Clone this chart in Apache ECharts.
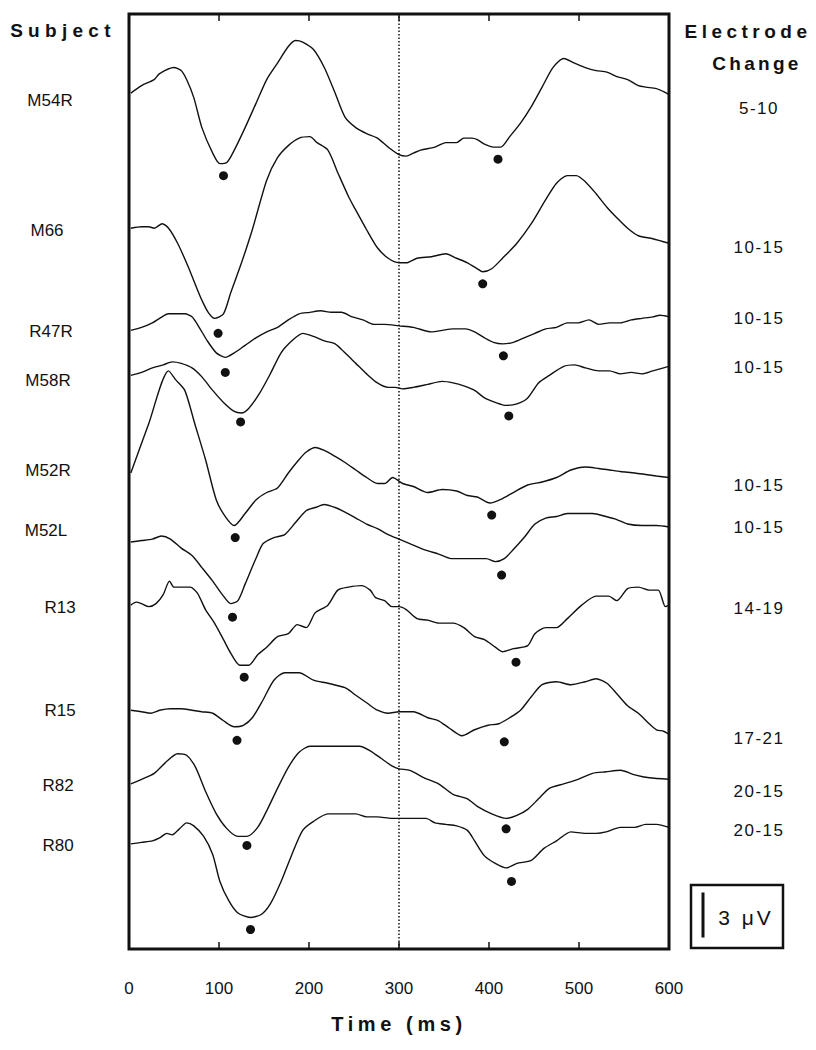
<!DOCTYPE html>
<html>
<head>
<meta charset="utf-8">
<script src="https://cdn.jsdelivr.net/npm/echarts@6/dist/echarts.min.js"></script>
<style>
html,body{margin:0;padding:0;background:#ffffff;}
#chart{width:816px;height:1050px;}
</style>
</head>
<body>
<div id="chart"></div>
<script>
// ---------------- DATA ----------------
const subjects = ['M54R', 'M66', 'R47R', 'M58R', 'M52R', 'M52L', 'R13', 'R15', 'R82', 'R80'];
const electrodeChange = ['5-10', '10-15', '10-15', '10-15', '10-15', '10-15', '14-19', '17-21', '20-15', '20-15'];
const timeTicks = [0, 100, 200, 300, 400, 500, 600];
const scaleBarUV = 3;
// vertical offset of each trace (μV above the bottom of the plot)
const baselineUV = [57.0, 48.0, 41.2, 38.2, 31.7, 27.1, 22.9, 15.9, 11.0, 7.0];

// waveforms: [time (ms), amplitude (μV, relative to baseline)]
const waveM54R = [[2,0.0],[14,0.5],[28,0.9],[34,1.3],[50,1.7],[58,1.5],[64,0.9],[72,-0.3],[81,-2.3],[93,-4.0],[101,-4.7],[109,-4.6],[117,-3.8],[129,-2.3],[141,-0.7],[153,0.9],[165,2.0],[177,3.1],[185,3.5],[193,3.4],[205,2.9],[217,1.7],[229,0.0],[240,-1.6],[252,-2.3],[264,-2.7],[276,-3.0],[288,-3.6],[300,-4.1],[308,-4.2],[316,-4.0],[324,-3.8],[340,-3.6],[352,-3.3],[364,-3.3],[372,-3.0],[381,-3.0],[387,-3.1],[395,-3.4],[405,-3.6],[413,-3.6],[423,-2.9],[435,-2.0],[447,-0.9],[459,0.4],[471,1.7],[483,2.3],[495,2.0],[507,1.7],[519,1.5],[531,1.4],[542,1.1],[554,0.9],[566,0.5],[574,0.4],[586,0.3],[594,0.1],[600,-0.1]];
const waveM66 = [[2,0.0],[14,0.1],[22,0.1],[28,0.0],[37,0.3],[44,0.0],[54,-1.0],[66,-2.6],[76,-4.1],[81,-4.8],[88,-5.6],[95,-6.0],[105,-5.7],[113,-4.3],[125,-2.3],[137,-0.1],[153,3.2],[165,4.7],[177,5.5],[189,6.0],[201,6.1],[209,5.7],[221,5.2],[232,3.7],[244,2.1],[252,1.2],[264,-0.1],[276,-1.3],[288,-2.0],[300,-2.3],[308,-2.3],[320,-2.0],[336,-1.9],[352,-1.7],[364,-2.0],[376,-2.3],[387,-2.7],[393,-2.9],[403,-2.7],[415,-2.0],[431,-1.0],[447,0.3],[463,1.9],[475,3.0],[487,3.5],[497,3.5],[507,3.1],[519,2.3],[531,1.4],[542,0.7],[554,0.0],[566,-0.5],[582,-0.7],[600,-1.0]];
const waveR47R = [[2,0.0],[14,0.2],[26,0.5],[34,0.8],[44,1.1],[54,1.1],[62,1.1],[70,0.9],[78,0.2],[87,-0.7],[97,-1.5],[107,-1.8],[117,-1.5],[129,-1.0],[141,-0.5],[153,-0.1],[165,0.2],[177,0.7],[189,1.1],[201,1.2],[213,1.3],[225,1.2],[236,1.2],[248,0.9],[260,0.7],[272,0.4],[284,0.4],[300,0.3],[316,0.2],[336,-0.1],[348,0.0],[360,0.1],[374,0.1],[384,-0.1],[395,-0.5],[405,-0.8],[415,-0.9],[427,-0.8],[439,-0.5],[451,-0.2],[463,0.1],[475,0.2],[487,0.5],[499,0.5],[511,0.7],[522,0.4],[534,0.5],[546,0.5],[558,0.7],[570,0.8],[582,0.9],[590,1.0],[600,0.9]];
const waveM58R = [[2,0.0],[14,0.2],[26,0.5],[38,0.7],[48,0.9],[58,0.8],[70,0.5],[81,-0.1],[93,-1.0],[105,-1.8],[117,-2.4],[125,-2.5],[133,-2.2],[145,-1.2],[157,0.1],[169,1.5],[181,2.3],[193,2.8],[205,2.6],[217,2.3],[229,2.1],[240,1.5],[252,0.8],[264,0.1],[276,-0.5],[288,-0.8],[296,-0.8],[304,-0.9],[316,-0.8],[332,-0.6],[348,-0.4],[360,-0.5],[372,-0.7],[384,-1.0],[395,-1.5],[407,-1.8],[419,-2.0],[431,-1.9],[443,-1.5],[455,-0.5],[467,0.0],[483,0.6],[495,0.7],[507,0.5],[522,0.3],[534,0.3],[546,0.1],[558,0.2],[570,0.1],[582,0.3],[594,0.5],[600,0.6]];
const waveM52R = [[2,0.0],[22,3.3],[44,6.8],[52,6.2],[62,5.5],[73,3.3],[85,0.9],[97,-1.8],[107,-2.9],[117,-3.5],[129,-2.7],[141,-1.8],[153,-1.3],[165,-1.0],[177,0.0],[189,0.9],[197,1.4],[207,1.7],[217,1.5],[229,1.1],[240,0.7],[252,0.2],[264,-0.3],[276,-0.7],[284,-0.7],[293,-0.3],[304,-0.7],[316,-0.9],[332,-1.3],[348,-1.1],[364,-1.2],[376,-1.5],[387,-1.6],[401,-2.0],[415,-1.7],[427,-1.3],[443,-0.8],[459,-0.6],[475,-0.3],[491,0.2],[507,0.4],[522,0.3],[534,0.2],[546,0.1],[562,0.0],[574,-0.1],[586,-0.2],[600,-0.3]];
const waveM52L = [[2,0.0],[14,0.1],[26,0.2],[36,0.4],[46,0.2],[58,-0.4],[70,-0.9],[81,-1.7],[93,-2.6],[105,-3.6],[113,-4.1],[121,-3.9],[129,-2.8],[141,-1.1],[149,-0.1],[161,0.3],[173,0.5],[185,1.3],[197,2.1],[207,2.3],[217,2.5],[229,2.3],[240,2.0],[252,1.6],[264,1.2],[276,0.9],[288,0.5],[300,0.2],[312,-0.1],[328,-0.5],[344,-0.8],[358,-1.1],[372,-1.1],[387,-1.1],[397,-1.1],[407,-1.3],[417,-1.1],[427,-0.5],[439,0.3],[451,1.2],[463,1.6],[475,1.7],[487,1.9],[503,1.9],[515,1.9],[530,1.7],[542,1.5],[554,1.2],[570,1.1],[586,1.1],[600,1.0]];
const waveR13 = [[2,0.0],[8,0.2],[14,0.1],[22,-0.1],[30,0.1],[38,0.7],[45,1.6],[50,1.2],[58,1.2],[68,1.2],[76,0.8],[85,-0.3],[95,-1.2],[105,-2.3],[113,-3.2],[123,-4.0],[133,-4.0],[143,-3.3],[153,-2.8],[165,-2.1],[177,-1.9],[187,-1.3],[197,-1.5],[207,-0.5],[221,0.0],[232,1.0],[244,1.2],[258,1.3],[268,1.0],[274,0.5],[284,0.3],[292,-0.1],[300,-0.1],[308,-0.3],[320,-0.9],[332,-1.0],[344,-1.2],[360,-1.2],[372,-1.5],[384,-2.1],[395,-2.3],[407,-2.8],[415,-3.1],[427,-2.9],[443,-2.7],[451,-1.9],[463,-1.5],[475,-1.5],[487,-0.9],[503,0.0],[519,0.6],[533,0.6],[542,0.3],[554,1.1],[566,1.2],[578,1.0],[588,1.0],[596,-0.1],[600,0.0]];
const waveR15 = [[2,0.0],[14,-0.1],[24,-0.2],[34,0.0],[46,0.1],[58,0.1],[70,0.0],[81,-0.1],[93,-0.2],[105,-0.7],[117,-1.1],[127,-1.0],[137,-0.5],[149,0.7],[161,2.0],[173,2.5],[189,2.5],[205,2.0],[221,1.8],[240,1.5],[252,1.0],[264,0.5],[276,0.0],[288,-0.2],[300,-0.1],[316,-0.1],[332,-0.5],[344,-0.7],[356,-1.2],[370,-1.7],[384,-1.3],[399,-1.0],[411,-0.9],[423,-0.5],[435,0.0],[447,0.9],[459,1.7],[475,1.9],[491,1.7],[507,1.9],[519,2.1],[531,1.8],[542,1.1],[554,0.3],[566,-0.2],[578,-0.9],[586,-1.3],[594,-1.4],[600,-1.6]];
const waveR82 = [[2,0.0],[14,0.3],[28,0.7],[42,1.5],[54,2.0],[64,1.9],[74,1.1],[85,-0.5],[97,-2.0],[109,-3.0],[121,-3.5],[131,-3.5],[143,-2.9],[153,-1.8],[165,-0.3],[177,1.1],[189,2.1],[201,2.5],[217,2.5],[229,2.5],[244,2.5],[256,2.5],[268,2.2],[280,1.7],[292,1.2],[300,1.0],[312,0.9],[328,0.4],[344,0.0],[360,-0.7],[376,-1.0],[387,-1.5],[403,-2.0],[419,-2.3],[431,-2.1],[443,-1.7],[455,-1.0],[467,-0.3],[483,0.0],[499,0.3],[515,0.7],[530,0.8],[546,0.9],[562,0.6],[578,0.4],[600,0.3]];
const waveR80 = [[2,0.0],[14,0.1],[26,0.2],[34,0.4],[42,0.7],[48,0.6],[56,1.0],[64,1.4],[72,1.2],[83,0.5],[93,-0.7],[101,-2.5],[111,-3.8],[121,-4.6],[135,-4.9],[147,-4.7],[157,-4.0],[169,-2.5],[181,-0.7],[193,0.9],[205,1.5],[221,2.0],[236,2.0],[252,2.0],[264,1.8],[276,1.8],[292,1.7],[304,1.7],[316,1.7],[330,1.7],[340,1.4],[352,1.3],[364,1.2],[376,0.9],[384,0.2],[395,-0.8],[407,-1.3],[419,-1.6],[431,-1.3],[447,-1.1],[461,-0.3],[475,0.2],[491,0.8],[507,0.7],[519,0.7],[530,0.8],[546,1.1],[562,1.1],[574,1.3],[586,1.3],[600,1.1]];

// marked components: latency (ms) and amplitude (μV relative to baseline)
const dotLatencyMs = [[105,410],[99,393],[107,416],[124,422],[118,403],[115,414],[128,430],[120,417],[131,419],[135,425]];
const dotAmplitudeUV = [[-5.5,-4.4],[-7.0,-3.7],[-2.8,-1.7],[-3.1,-2.7],[-4.3,-2.8],[-5.0,-2.2],[-4.8,-3.8],[-2.0,-2.1],[-4.1,-3.0],[-5.7,-2.5]];

// ---------------- LAYOUT ----------------
const waves = [waveM54R, waveM66, waveR47R, waveM58R, waveM52R, waveM52L, waveR13, waveR15, waveR82, waveR80];
const subjectLabelX = [50, 47, 51, 48, 48, 46, 60, 60, 58, 58];
const subjectLabelY = [100, 230, 331, 380, 470, 530, 607, 710, 785, 845];
const changeLabelY = [108, 247, 318, 367, 485, 527, 608, 738, 791, 830];
const INK = '#111111';
const FONT = '"Liberation Sans", Arial, sans-serif';
const Y_MAX = 934 / 15;
const scaleLabel = scaleBarUV + ' μV';
// letter tracking of the original typesetting (px)
const tracking = { 'Subject': 5.3, 'Electrode': 4.5, 'Change': 3.3, 'Time (ms)': 4.6 };
electrodeChange.forEach(s => { tracking[s] = 1.5; });
tracking[scaleLabel] = 3;

const series = [];
waves.forEach((w, i) => {
  series.push({
    type: 'line',
    name: subjects[i],
    data: w.map(p => [p[0], baselineUV[i] + p[1]]),
    showSymbol: false,
    smooth: 0.25,
    lineStyle: { color: INK, width: 1.4 },
    silent: true,
    animation: false,
    z: 3
  });
});
const dotData = [];
dotLatencyMs.forEach((lat, i) => {
  lat.forEach((t, j) => dotData.push([t, baselineUV[i] + dotAmplitudeUV[i][j]]));
});
series.push({
  type: 'scatter',
  data: dotData,
  symbol: 'circle',
  symbolSize: 9,
  itemStyle: { color: INK, opacity: 1 },
  silent: true,
  animation: false,
  z: 4
});
series.push({
  type: 'line',
  data: [],
  silent: true,
  animation: false,
  markLine: {
    silent: true,
    symbol: ['none', 'none'],
    label: { show: false },
    lineStyle: { color: INK, width: 1.5, type: [1.5, 2] },
    data: [{ xAxis: 300 }]
  }
});

const option = {
  backgroundColor: '#ffffff',
  animation: false,
  grid: {
    left: 129, right: 147, top: 14, bottom: 101,
    show: true, borderColor: INK, borderWidth: 3, backgroundColor: 'transparent'
  },
  xAxis: [
    {
      type: 'value', min: 0, max: 600, interval: 100, position: 'bottom',
      axisLine: { show: false },
      axisTick: { show: true, inside: true, length: 7, lineStyle: { color: INK, width: 1.5 } },
      axisLabel: {
        margin: 31, color: INK, fontSize: 17, fontFamily: FONT,
        formatter: v => (timeTicks.indexOf(v) >= 0 ? String(v) : '')
      },
      splitLine: { show: false },
      name: 'Time (ms)', nameLocation: 'middle', nameGap: 65,
      nameTextStyle: { color: INK, fontSize: 20, fontWeight: 'bold', fontFamily: FONT }
    },
    {
      type: 'value', min: 0, max: 600, interval: 100, position: 'top',
      axisLine: { show: false },
      axisTick: { show: true, inside: true, length: 7, lineStyle: { color: INK, width: 1.5 } },
      axisLabel: { show: false },
      splitLine: { show: false }
    }
  ],
  yAxis: {
    type: 'value', min: 0, max: Y_MAX, show: false,
    splitLine: { show: false }
  },
  series: series
};

const chart = echarts.init(document.getElementById('chart'), null, { renderer: 'svg' });
chart.setOption(option);

const yPix = v => chart.convertToPixel({ gridIndex: 0 }, [0, v])[1];
const barLen = yPix(0) - yPix(scaleBarUV);

const graphics = [];
graphics.push({
  type: 'text', x: 63, y: 30,
  style: { text: 'Subject', font: 'bold 19px ' + FONT, fill: INK, align: 'center', verticalAlign: 'middle' }
});
graphics.push({
  type: 'text', x: 748, y: 31,
  style: { text: 'Electrode', font: 'bold 19px ' + FONT, fill: INK, align: 'center', verticalAlign: 'middle' }
});
graphics.push({
  type: 'text', x: 757, y: 63,
  style: { text: 'Change', font: 'bold 19px ' + FONT, fill: INK, align: 'center', verticalAlign: 'middle' }
});
subjects.forEach((s, i) => {
  graphics.push({
    type: 'text', x: subjectLabelX[i], y: subjectLabelY[i],
    style: { text: s, font: '17px ' + FONT, fill: INK, align: 'center', verticalAlign: 'middle' }
  });
});
electrodeChange.forEach((s, i) => {
  graphics.push({
    type: 'text', x: 759, y: changeLabelY[i],
    style: { text: s, font: '17px ' + FONT, fill: INK, align: 'center', verticalAlign: 'middle' }
  });
});
// scale bar box
graphics.push({
  type: 'rect', shape: { x: 691, y: 885, width: 92, height: 63 },
  style: { fill: 'none', stroke: INK, lineWidth: 2.5 }
});
const barCenter = 915;
graphics.push({
  type: 'line', shape: { x1: 703, y1: barCenter - barLen / 2, x2: 703, y2: barCenter + barLen / 2 },
  style: { stroke: INK, lineWidth: 3 }
});
graphics.push({
  type: 'text', x: 746, y: 917,
  style: { text: scaleLabel, font: '21px ' + FONT, fill: INK, align: 'center', verticalAlign: 'middle' }
});
chart.setOption({ graphic: graphics });

// apply letter tracking to the rendered SVG text nodes
function applyTracking() {
  document.querySelectorAll('#chart svg text').forEach(t => {
    const sp = tracking[t.textContent];
    if (sp) t.style.letterSpacing = sp + 'px';
  });
}
applyTracking();
chart.on('finished', applyTracking);
setTimeout(applyTracking, 30);
setTimeout(applyTracking, 200);
</script>
</body>
</html>
